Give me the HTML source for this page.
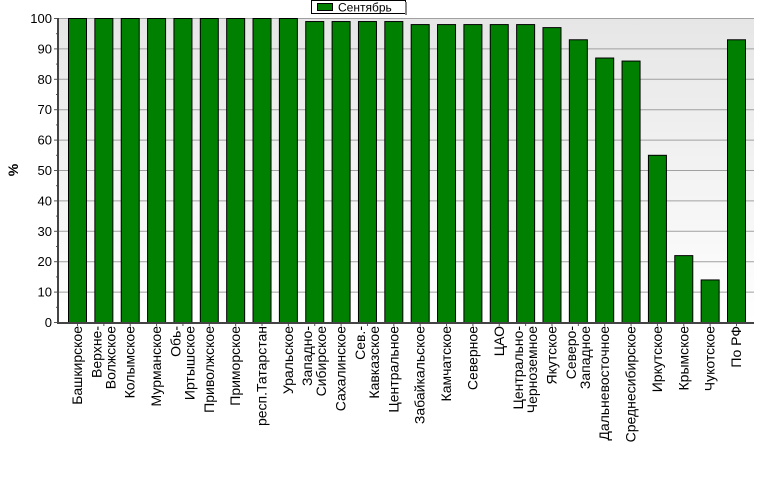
<!DOCTYPE html>
<html><head><meta charset="utf-8"><style>
body{margin:0;background:#fff;}
svg{display:block;font-family:"Liberation Sans","DejaVu Sans",sans-serif;}
</style></head><body>
<svg id="chart" width="777" height="479" viewBox="0 0 777 479">
<defs><linearGradient id="bg" x1="0" y1="0" x2="0" y2="1"><stop offset="0" stop-color="#e6e6e6"/><stop offset="1" stop-color="#ffffff"/></linearGradient></defs>
<rect x="58" y="18" width="696" height="304" fill="url(#bg)"/>
<g id="grid"></g><g id="bars"></g><g id="axes"></g><g id="labels"></g>
<text x="18" y="170" font-size="14" font-weight="bold" text-anchor="middle" transform="rotate(-90 18 170)">%</text>
<g>
<rect x="311.5" y="0.5" width="94" height="13" fill="#fff" stroke="#000"/>
<rect x="405" y="2" width="2" height="13" fill="#888"/>
<rect x="317.5" y="3.5" width="15" height="7" fill="#008000" stroke="#000"/>
<text x="338" y="11.5" font-size="12">Сентябрь</text>
</g>
</svg>
<script>
const categories=[["Башкирское"],["Верхне-","Волжское"],["Колымское"],["Мурманское"],["Обь-","Иртышское"],["Приволжское"],["Приморское"],["респ.Татарстан"],["Уральское"],["Западно-","Сибирское"],["Сахалинское"],["Сев.-","Кавказское"],["Центральное"],["Забайкальское"],["Камчатское"],["Северное"],["ЦАО"],["Центрально-","Черноземное"],["Якутское"],["Северо-","Западное"],["Дальневосточное"],["Среднесибирское"],["Иркутское"],["Крымское"],["Чукотское"],["По РФ"]];
const values=[100,100,100,100,100,100,100,100,100,99,99,99,99,98,98,98,98,98,97,93,87,86,55,22,14,93];
const yTicks=[0,10,20,30,40,50,60,70,80,90,100];
const NS="http://www.w3.org/2000/svg";
const X0=58,X1=754,Y0=322,Y1=18;
const pitch=26.36,first=77,bw=18;
function y(v){return Y0-(v/100)*(Y0-Y1);}
function xc(i){return first+i*pitch;}
function mk(t,a,p){const e=document.createElementNS(NS,t);for(const k in a)e.setAttribute(k,a[k]);p.appendChild(e);return e;}
const grid=document.getElementById('grid'),bars=document.getElementById('bars'),axes=document.getElementById('axes'),labels=document.getElementById('labels');
yTicks.forEach(v=>{
 if(v>0){const g=mk('line',{x1:X0,x2:X1,y1:y(v)+0.5,y2:y(v)+0.5,stroke:'#a0a0a0','stroke-width':1},grid);
 
 }
 const t=mk('text',{x:X0-6,y:y(v)+5,'font-size':13,'text-anchor':'end'},axes);t.textContent=v;
 
 
 mk('line',{x1:X0-4,x2:X0,y1:y(v)+0.5,y2:y(v)+0.5,stroke:'#555'},axes);
 if(v<100)mk('line',{x1:X0-2,x2:X0,y1:y(v+5)+0.5,y2:y(v+5)+0.5,stroke:'#555'},axes);
});
values.forEach((v,i)=>{
 const r=mk('rect',{x:xc(i)-bw/2+0.5,y:y(v)+0.5,width:bw,height:Y0-y(v),fill:'#008000',stroke:'#000','stroke-width':1},bars);
 
 
 mk('line',{x1:xc(i)+0.5,x2:xc(i)+0.5,y1:Y0,y2:Y0+4,stroke:'#555'},axes);
 const lines=categories[i];
 lines.forEach((s,j)=>{
  const off=lines.length===1?0:(j===0?-7:7);
  const lx=xc(i)+5+off,ly=326;
  const t=mk('text',{x:lx,y:ly,'font-size':14,'text-anchor':'end',transform:'rotate(-90 '+lx+' '+ly+')'},labels);
  t.textContent=s;
  
  
 });
});
mk('line',{x1:X0,x2:X0,y1:Y1,y2:Y0+1,stroke:'#444','stroke-width':2},axes);
mk('line',{x1:X0-1,x2:X1,y1:Y0+1,y2:Y0+1,stroke:'#444','stroke-width':2},axes);
</script>
</body></html>
